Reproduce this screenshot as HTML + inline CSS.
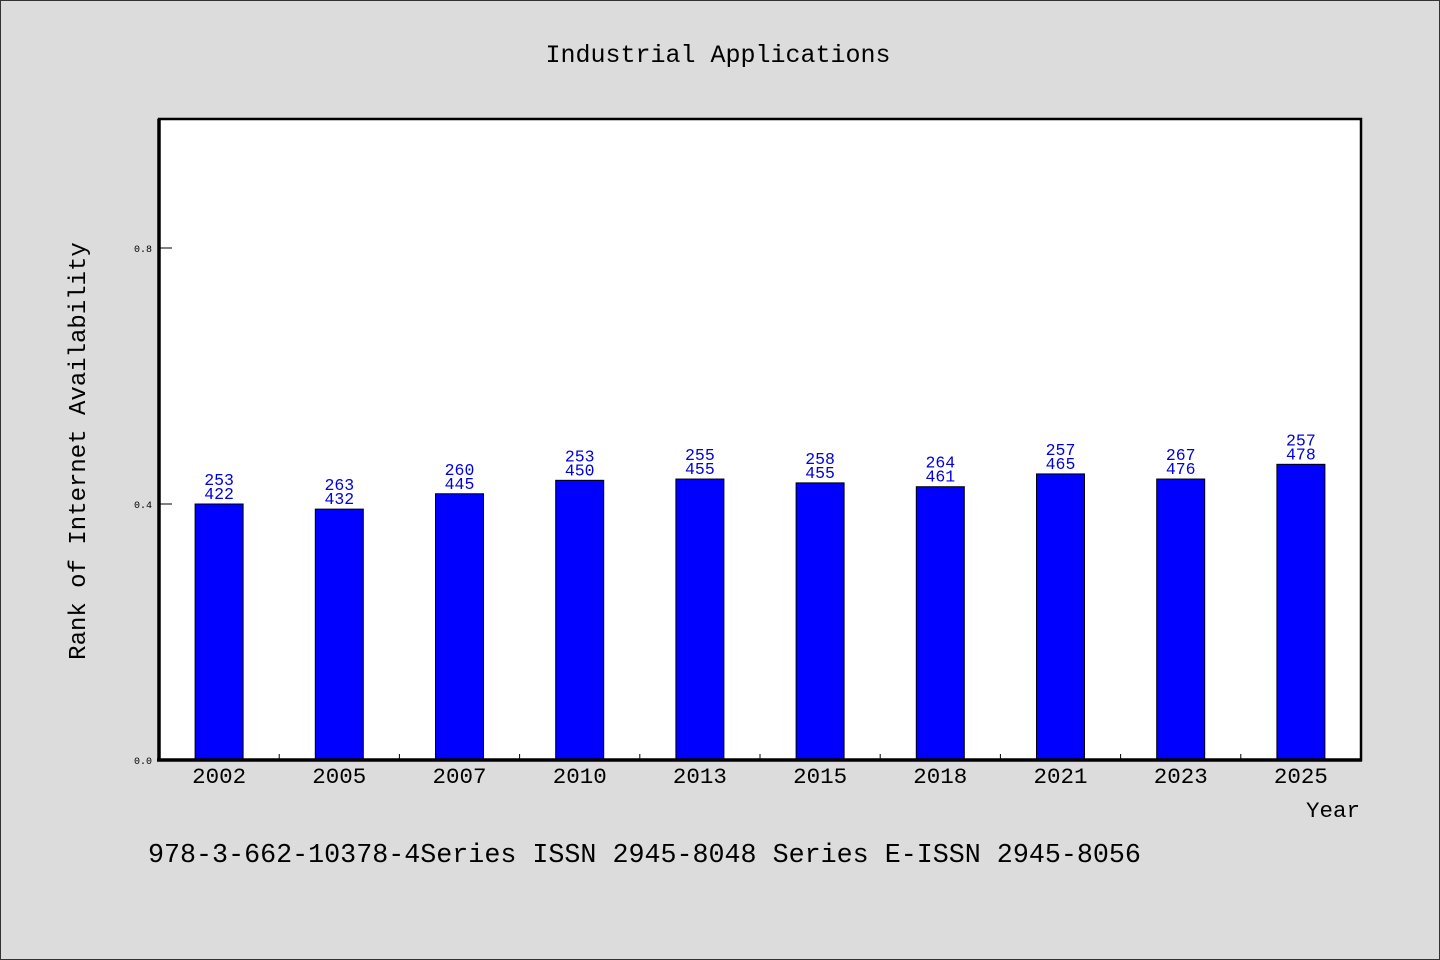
<!DOCTYPE html>
<html><head><meta charset="utf-8"><style>
body{margin:0;background:#dcdcdc;}
svg{display:block;font-family:"WenQuanYi Zen Hei Mono","Liberation Mono",monospace;}
</style></head><body>
<svg width="1440" height="960" viewBox="0 0 1440 960">
<rect x="0.5" y="0.5" width="1439" height="959" fill="#dcdcdc" stroke="#333"/>
<text x="718" y="62" font-size="25" text-anchor="middle">Industrial Applications</text>
<rect x="159" y="119" width="1202" height="641" fill="#fff" stroke="#000" stroke-width="2.5"/>
<g id="bars"></g>
<line x1="159" y1="119" x2="159" y2="761" stroke="#000" stroke-width="3.5"/>
<line x1="157" y1="760" x2="1362" y2="760" stroke="#000" stroke-width="3.5"/>
<text x="85" y="451" font-size="24" text-anchor="middle" transform="rotate(-90 85 451)">Rank of Internet Availability</text>
<text x="1360" y="817" font-size="22.5" text-anchor="end">Year</text>
<text x="148" y="862" font-size="26.7">978-3-662-10378-4Series ISSN 2945-8048 Series E-ISSN 2945-8056</text>
</svg>
<script>
const categories=["2002","2005","2007","2010","2013","2015","2018","2021","2023","2025"];
const values=[0.400,0.392,0.416,0.437,0.439,0.433,0.427,0.447,0.439,0.462];
const labelTop=["253","263","260","253","255","258","264","257","267","257"];
const labelBottom=["422","432","445","450","455","455","461","465","476","478"];
const yTicks=[0,0.4,0.8];
const yTickLabels=["0.0","0.4","0.8"];
const NS="http://www.w3.org/2000/svg";
const X0=159,X1=1361,Y0=760,Y1=120;
const band=(X1-X0)/categories.length;
const xScale=i=>X0+band*(i+0.5);
const yScale=v=>Y0-(v-0)/(1-0)*(Y0-Y1);
const g=document.getElementById('bars');
function mk(t,a){const e=document.createElementNS(NS,t);for(const k in a)e.setAttribute(k,a[k]);g.appendChild(e);return e;}
yTicks.forEach((v,i)=>{
  const y=yScale(v);
  const l=mk('line',{x1:159,y1:y,x2:172,y2:y,stroke:'#000','stroke-width':1});
  
  
  const t=mk('text',{x:152,y:y+4,'font-size':10,'text-anchor':'end'});
  t.textContent=yTickLabels[i];
  
  
});
categories.forEach((c,i)=>{
  const cx=xScale(i),y=yScale(values[i]);
  const r=mk('rect',{x:cx-24,y:y,width:48,height:Y0-y,fill:'#0000ff',stroke:'#000','stroke-width':1});
  
  
  const t1=mk('text',{x:cx,y:y-19,'font-size':16.5,fill:'#0000dd','text-anchor':'middle'});
  t1.textContent=labelTop[i];
  
  
  const t2=mk('text',{x:cx,y:y-5,'font-size':16.5,fill:'#0000dd','text-anchor':'middle'});
  t2.textContent=labelBottom[i];
  
  
  const xl=mk('text',{x:cx,y:783,'font-size':22.5,'text-anchor':'middle'});
  xl.textContent=c;
  
  
  if(i>0){
    const tk=mk('line',{x1:X0+band*i,y1:754,x2:X0+band*i,y2:760,stroke:'#000','stroke-width':1});
    
    
  }
});
</script>
</body></html>
